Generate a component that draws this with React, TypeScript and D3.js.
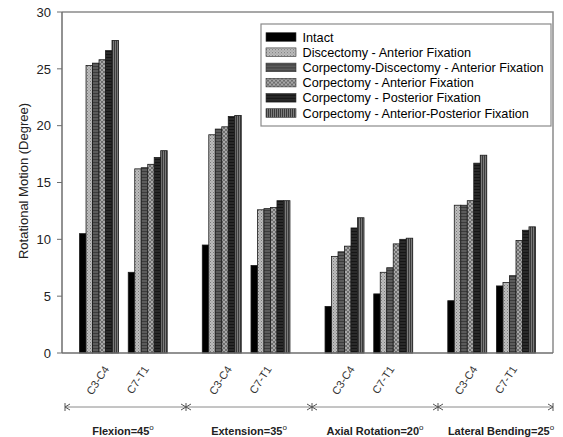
import React from "react";
import * as d3 from "d3";

const motions = ["Flexion=45", "Extension=35", "Axial Rotation=20", "Lateral Bending=25"];
const levels = ["C3-C4", "C7-T1"];
const series = [
  "Intact",
  "Discectomy - Anterior Fixation",
  "Corpectomy-Discectomy - Anterior Fixation",
  "Corpectomy - Anterior Fixation",
  "Corpectomy - Posterior Fixation",
  "Corpectomy - Anterior-Posterior Fixation",
];
// values[motion][level][series]
const flexion = [
  [10.5, 25.3, 25.5, 25.8, 26.6, 27.5],
  [7.1, 16.2, 16.3, 16.6, 17.2, 17.8],
];
const extension = [
  [9.5, 19.2, 19.7, 19.9, 20.8, 20.9],
  [7.7, 12.6, 12.7, 12.8, 13.4, 13.4],
];
const axialRotation = [
  [4.1, 8.5, 8.9, 9.4, 11.0, 11.9],
  [5.2, 7.1, 7.5, 9.6, 10.0, 10.1],
];
const lateralBending = [
  [4.6, 13.0, 13.0, 13.4, 16.7, 17.4],
  [5.9, 6.2, 6.8, 9.9, 10.8, 11.1],
];
const values = [flexion, extension, axialRotation, lateralBending];
const yTicks = [0, 5, 10, 15, 20, 25, 30];

const fills = [
  "#000000",
  "url(#pDisc)",
  "url(#pCD)",
  "url(#pCA)",
  "url(#pCP)",
  "url(#pAP)",
];

const W = 563, H = 437;
const L = 62, R = 553, T = 12, B = 353;
const FONT = "'Liberation Sans', Arial, sans-serif";

export default function App() {
  const y = d3.scaleLinear().domain([0, 30]).range([B, T]);
  const x0 = d3.scaleBand().domain(motions).range([L, R]).paddingInner(0).paddingOuter(0);
  const x1 = d3.scaleBand().domain(levels).range([0, x0.bandwidth()]).paddingInner(0.2).paddingOuter(0.36);
  const x2 = d3.scaleBand().domain(series).range([0, x1.bandwidth()]).padding(0);
  const xb = d3.scaleBand().domain(motions).range([60, 564]);
  const labelShift = [10.5, 1.5];

  return (
    <svg width={W} height={H} style={{ position: "absolute", left: 0, top: 0, background: "#fff" }} fontFamily={FONT}>
      <defs>
        <pattern id="pDisc" width="3" height="3" patternUnits="userSpaceOnUse">
          <rect width="3" height="3" fill="#bdbdbd" />
          <rect x="0" y="0" width="1" height="1" fill="#7a7a7a" />
          <rect x="1.5" y="1.5" width="1" height="1" fill="#8a8a8a" />
        </pattern>
        <pattern id="pCD" width="3" height="3" patternUnits="userSpaceOnUse">
          <rect width="3" height="3" fill="#5c5c5c" />
          <rect x="0" y="0" width="3" height="1" fill="#3c3c3c" />
        </pattern>
        <pattern id="pCA" width="4" height="4" patternUnits="userSpaceOnUse">
          <rect width="4" height="4" fill="#a8a8a8" />
          <path d="M0,0 L4,4 M4,0 L0,4" stroke="#606060" strokeWidth="0.8" />
        </pattern>
        <pattern id="pCP" width="3" height="3" patternUnits="userSpaceOnUse">
          <rect width="3" height="3" fill="#2a2a2a" />
          <rect x="0" y="0" width="3" height="1" fill="#151515" />
        </pattern>
        <pattern id="pAP" width="2" height="2" patternUnits="userSpaceOnUse">
          <rect width="2" height="2" fill="#7a7a7a" />
          <rect x="0" y="0" width="1" height="2" fill="#3a3a3a" />
        </pattern>
      </defs>

      {/* frame */}
      <path d={`M${L},${T} H${R} V${B}`} fill="none" stroke="#8a8a8a" strokeWidth={1.5} />

      {/* bars */}
      {motions.map((m, mi) =>
        levels.map((lv, li) =>
          series.map((s, si) => {
            const v = values[mi][li][si];
            const bx = (x0(m) as number) + (x1(lv) as number) + (x2(s) as number);
            return (
              <rect
                key={`${mi}-${li}-${si}`}
                x={bx}
                y={y(v)}
                width={x2.bandwidth()}
                height={B - y(v)}
                fill={fills[si]}
                stroke="#1a1a1a"
                strokeWidth={0.8}
              />
            );
          })
        )
      )}

      {/* axes */}
      <line x1={L} x2={L} y1={T} y2={B} stroke="#6e6e6e" strokeWidth={1.5} />
      <line x1={L} x2={R} y1={B} y2={B} stroke="#6e6e6e" strokeWidth={1.5} />
      {yTicks.map((t) => (
        <g key={t}>
          <line x1={L - 5} x2={L} y1={y(t)} y2={y(t)} stroke="#6e6e6e" strokeWidth={1} />
          <text x={L - 11} y={y(t)} dy="0.36em" textAnchor="end" fontSize={13} fill="#222">
            {t}
          </text>
        </g>
      ))}
      <text
        transform={`translate(28,${181}) rotate(-90)`}
        textAnchor="middle"
        fontSize={13}
        fill="#222"
      >
        Rotational Motion (Degree)
      </text>

      {/* level labels */}
      {motions.map((m, mi) =>
        levels.map((lv, li) => {
          const cx = (x0(m) as number) + (x1(lv) as number) + x1.bandwidth() / 2 + labelShift[li];
          return (
            <text
              key={`${mi}-${li}`}
              transform={`translate(${cx},${369}) rotate(-57)`}
              textAnchor="end"
              fontSize={11}
              fill="#333"
            >
              {lv}
            </text>
          );
        })
      )}

      {/* bracket */}
      <line x1={65} x2={553} y1={407} y2={407} stroke="#8a8a8a" strokeWidth={1} />
      {[65, ...motions.slice(1).map((m) => xb(m) as number), 553].map((px, i) => (
        <g key={i} stroke="#555" strokeWidth={1}>
          <line x1={px} x2={px} y1={403} y2={411} />
          {i > 0 && <path d={`M${px - 5},${404} L${px},${407} L${px - 5},${410}`} fill="none" />}
          {i < motions.length && <path d={`M${px + 5},${404} L${px},${407} L${px + 5},${410}`} fill="none" />}
        </g>
      ))}
      {motions.map((m) => (
        <text
          key={m}
          x={(xb(m) as number) + xb.bandwidth() / 2}
          y={435}
          textAnchor="middle"
          fontSize={11}
          fontWeight="bold"
          fill="#222"
        >
          {m}
          <tspan fontSize={8} fontWeight="normal" dy={-5}>o</tspan>
        </text>
      ))}

      {/* legend */}
      <rect x={261} y={24} width={290} height={102} fill="#fff" stroke="#8a8a8a" strokeWidth={1.2} />
      {series.map((s, si) => (
        <g key={s} transform={`translate(266,${37 + si * 15.2})`}>
          <rect x={0} y={-4.3} width={30} height={8.6} fill={fills[si]} stroke="#333" strokeWidth={0.6} />
          <text x={36.5} y={0} dy="0.36em" fontSize={12.7} fill="#000">
            {s}
          </text>
        </g>
      ))}
    </svg>
  );
}
